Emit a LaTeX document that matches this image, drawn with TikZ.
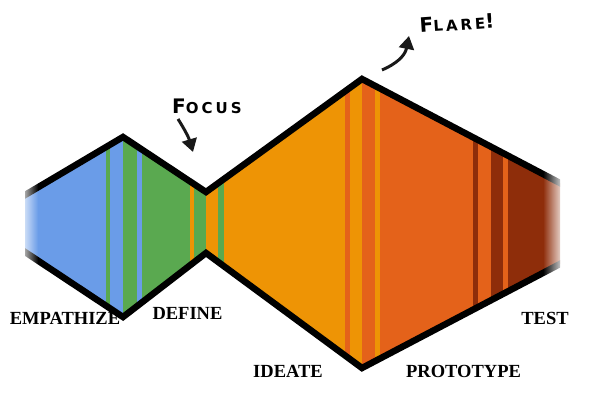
\documentclass[tikz,border=0pt]{standalone}
\usepackage{fontspec}
\setmainfont{Liberation Serif}
\newfontfamily\handfont[LetterSpace=20]{DejaVu Sans}
\usepackage{xcolor}
\usepackage{tikz}
\usetikzlibrary{arrows.meta,calc,fadings}
\definecolor{dblue}{HTML}{6A9CE8}
\definecolor{dgreen}{HTML}{5AA950}
\definecolor{dorange}{HTML}{EE9405}
\definecolor{dred}{HTML}{E4621A}
\definecolor{dbrown}{HTML}{8E2D0A}

\begin{document}
\begin{tikzpicture}[x=1pt,y=-1pt,
  phase/.style={font=\fontsize{18.5}{20}\selectfont\bfseries,inner sep=0pt},
  hand/.style={font=\handfont\bfseries\fontsize{20}{22}\selectfont,inner sep=0pt},
  note/.style={-{Triangle[length=13pt,width=15pt]},line width=3pt,black!90},
  rim/.style={line width=6.5pt,line join=miter,black}]

  \useasboundingbox (0,0) rectangle (600,400);

  % outline corners
  \coordinate (l1) at (25,195);  \coordinate (l2) at (25,252);
  \coordinate (p1) at (123,137); \coordinate (v1) at (123,317);
  \coordinate (w1) at (206,192); \coordinate (w2) at (206,253);
  \coordinate (p2) at (362,79);  \coordinate (v2) at (362,368);
  \coordinate (r1) at (560,183); \coordinate (r2) at (560,264);

  \begin{scope}
    \clip (l1)--(p1)--(w1)--(p2)--(r1)--(r2)--(v2)--(w2)--(v1)--(l2)--cycle;
    \foreach \a/\b/\c in {20/106/dblue,106/110/dgreen,110/123/dblue,
        123/137/dgreen,137/142/dblue,142/190/dgreen,190/194/dorange,
        194/206/dgreen,206/218/dorange,218/224/dgreen,224/345/dorange,
        345/350/dred,350/362/dorange,362/375/dred,375/380/dorange,
        380/473/dred,473/478/dbrown,478/491/dred,491/503/dbrown,
        503/508/dred,508/570/dbrown}
      \fill[\c] (\a,60) rectangle (\b,380);
  \end{scope}

  \begin{scope}
    \clip (25,0) rectangle (560,400);
    \draw[rim] ($(l1)!-0.1!(p1)$)--(p1)--(w1)--(p2)--($(r1)!-0.1!(p2)$);
    \draw[rim] ($(l2)!-0.1!(v1)$)--(v1)--(w2)--(v2)--($(r2)!-0.1!(v2)$);
  \end{scope}

  % faded ends
  \fill[white,path fading=east,fill opacity=0.7] (24,180) rectangle (38,270);
  \fill[white,path fading=west,fill opacity=0.8] (543,165) rectangle (561,280);

  \node[phase] (emp) at (65,318.5) {EMPATHIZE};
  \node[phase] (def) at (187.5,313.5) {DEFINE};
  \node[phase] (ide) at (288,371.5) {IDEATE};
  \node[phase] (pro) at (463.5,371.5) {PROTOTYPE};
  \node[phase] (tst) at (545,318.5) {TEST};

  \node[hand,anchor=south west] (focus) at (172,114)
    {F{\fontsize{15}{16}\selectfont OCUS}};
  \node[hand,rotate=4] (flare) at (457,23)
    {F{\fontsize{15}{16}\selectfont LARE}!};

  \coordinate (focustip) at (193,152);
  \coordinate (flaretail) at (382,70);
  \coordinate (flaretip) at (409,36);
  \draw[note] ([xshift=6pt,yshift=-5pt]focus.south west) to[bend left=8] (focustip);
  \draw[note] (flaretail) .. controls (396,64) and (405,56) .. (flaretip);
\end{tikzpicture}
\end{document}
